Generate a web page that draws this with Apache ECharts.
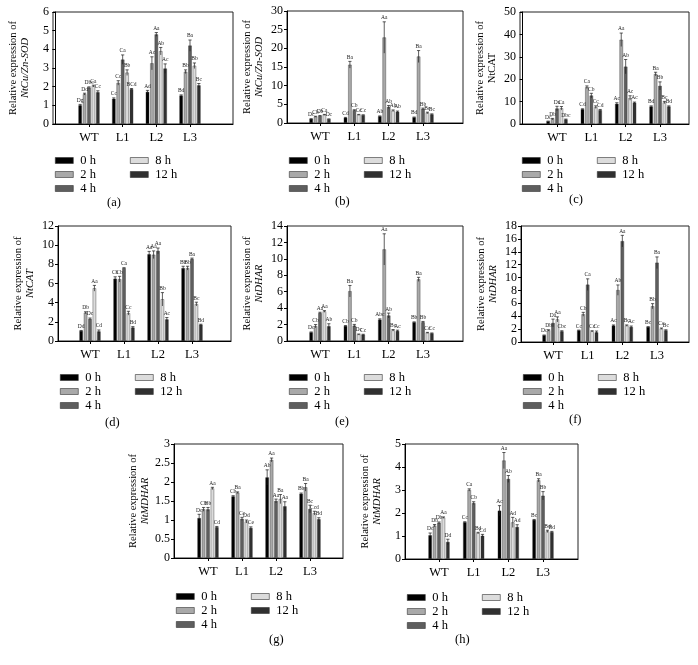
<!DOCTYPE html>
<html>
<head>
<meta charset="utf-8">
<script src="https://cdn.jsdelivr.net/npm/echarts@6/dist/echarts.min.js"></script>
<style>
html,body{margin:0;padding:0;background:#fff;}
#chart{width:698px;height:665px;}
</style>
</head>
<body>
<div id="chart"></div>
<script>
// ---------- data ----------
const groups = ['WT', 'L1', 'L2', 'L3'];
const times = ['0 h', '2 h', '4 h', '8 h', '12 h'];

// rows = time (0,2,4,8,12 h), columns = WT, L1, L2, L3
// (a) NtCu/Zn-SOD
const aMean = [[1.0,1.35,1.72,1.52],[1.6,2.2,3.25,2.8],[1.95,3.45,4.8,4.2],[2.03,2.75,3.9,3.12],[1.7,1.87,2.97,2.07]];
const aErr  = [[0.05,0.05,0.08,0.04],[0.05,0.12,0.35,0.1],[0.04,0.25,0.1,0.3],[0.05,0.15,0.2,0.15],[0.08,0.03,0.25,0.1]];
const aSig  = [['Dg','Cc','Ad','Bd'],['Dd','Cc','Ac','Bb'],['Dbc','Ca','Aa','Ba'],['Ca','Bb','Ab','Bb'],['Cc','BCd','Ac','Bc']];
// (b) NtCu/Zn-SOD
const bMean = [[1.1,1.4,1.8,1.5],[1.7,15.6,22.9,17.8],[1.9,3.4,4.3,3.8],[2.2,2.2,3.3,2.7],[1.05,2.1,3.0,2.3]];
const bErr  = [[0.05,0.1,0.1,0.1],[0.1,0.9,4.2,1.6],[0.1,0.15,0.4,0.2],[0.1,0.1,0.2,0.2],[0.05,0.1,0.2,0.15]];
const bSig  = [['Dc','Cd','Ab','Bd'],['Cb','Ba','Aa','Ba'],['Db','Cb','Ab','Bb'],['Ca','Cc','Ab','Bc'],['Dc','Cc','Ab','Bc']];
// (c) NtCAT
const cMean = [[1.2,6.6,9.0,7.8],[2.2,16.4,37.6,22.3],[6.9,12.7,25.6,17.0],[7.0,7.5,11.6,9.6],[2.0,6.2,9.5,7.8]];
const cErr  = [[0.1,0.2,0.5,0.3],[0.3,0.6,3.0,0.8],[1.0,1.0,3.2,1.8],[0.8,0.6,1.0,0.5],[0.2,0.3,0.3,0.3]];
const cSig  = [['Dc','Cd','Ac','Bd'],['Db','Ca','Aa','Ba'],['Da','Cb','Ab','Bb'],['Ca','Cc','Ac','Bc'],['Dbc','Cd','Ac','Bd']];
// (d) NtCAT
const dMean = [[1.05,6.5,9.05,7.6],[2.95,6.45,9.0,7.6],[2.3,7.6,9.4,8.55],[5.5,2.9,4.35,3.85],[1.0,1.4,2.25,1.7]];
const dErr  = [[0.05,0.2,0.3,0.2],[0.1,0.3,0.4,0.2],[0.1,0.05,0.3,0.1],[0.3,0.2,0.7,0.2],[0.15,0.1,0.2,0.05]];
const dSig  = [['Dd','Cb','Aa','Bb'],['Db','Cb','Aa','Bb'],['Dc','Ca','Aa','Ba'],['Aa','Cc','Bb','Bc'],['Cd','Bd','Ac','Bd']];
// (e) NtDHAR
const eMean = [[1.05,1.83,2.6,2.28],[1.8,6.06,11.15,7.5],[3.4,1.87,3.1,2.28],[3.6,0.8,1.3,1.0],[1.8,0.77,1.22,0.93]];
const eErr  = [[0.05,0.05,0.1,0.05],[0.2,0.7,1.9,0.25],[0.1,0.15,0.3,0.1],[0.1,0.05,0.1,0.05],[0.3,0.05,0.1,0.05]];
const eSig  = [['Dc','Cb','Abc','Bb'],['Cb','Ba','Aa','Ba'],['Aa','Cb','Ab','Bb'],['Aa','Dc','Bc','Cc'],['Ab','Cc','Ac','Cc']];
// (f) NtDHAR
const fMean = [[1.04,1.8,2.55,2.33],[1.8,4.3,8.05,5.55],[2.95,8.9,15.65,12.3],[3.5,1.65,2.55,2.07],[1.65,1.5,2.33,1.8]];
const fErr  = [[0.05,0.05,0.1,0.05],[0.1,0.3,0.8,0.4],[0.6,0.9,0.9,0.9],[0.4,0.1,0.1,0.1],[0.1,0.2,0.15,0.1]];
const fSig  = [['Dc','Cc','Ac','Bc'],['Db','Cb','Ab','Bb'],['Da','Ca','Aa','Ba'],['Aa','Cc','Bc','Cc'],['Cbc','Cc','Ac','Bc']];
// (g) NtMDHAR
const gMean = [[1.05,1.62,2.12,1.69],[1.28,1.72,2.58,1.86],[1.28,1.03,1.5,1.29],[1.83,0.96,1.55,1.18],[0.81,0.79,1.36,1.02]];
const gErr  = [[0.1,0.02,0.2,0.02],[0.05,0.02,0.05,0.1],[0.05,0.04,0.05,0.1],[0.03,0.04,0.12,0.05],[0.02,0.03,0.12,0.04]];
const gSig  = [['Dc','Cb','Ab','Bb'],['Cb','Ba','Aa','Ba'],['Bb','Cc','Aa','Bc'],['Aa','Dd','Ba','Ccd'],['Cd','Ce','Aa','Bd']];
// (h) NtMDHAR
const hMean = [[1.03,1.6,2.1,1.7],[1.45,3.0,4.28,3.42],[1.57,2.43,3.48,2.75],[1.8,1.13,1.59,1.2],[0.74,1.01,1.39,1.17]];
const hErr  = [[0.1,0.02,0.22,0.02],[0.05,0.05,0.35,0.07],[0.04,0.06,0.15,0.18],[0.03,0.03,0.22,0.05],[0.12,0.06,0.1,0.03]];
const hSig  = [['Dc','Cc','Ac','Bc'],['Db','Ca','Aa','Ba'],['Db','Cb','Ab','Bb'],['Aa','Bd','Ad','Bd'],['Dd','Cd','Ad','Bd']];

// ---------- styling / layout ----------
const FONT = "'Liberation Serif', 'DejaVu Serif', serif";
const COLORS = ['#000000', '#a9a9a9', '#5e5e5e', '#dcdcdc', '#303030'];
const BAR_W = 3.4;
const BAR_GAP = 0.3;
const BAR_STEP = BAR_W * (1 + BAR_GAP);

const panels = [
  {tag:'(a)', gene:'NtCu/Zn-SOD', italic:true, mean:aMean, err:aErr, sig:aSig, yMax:6, yStep:1,
   left:53, right:233, top:12, bottom:124, wt:89, l3:190, legY:154, tagX:115, tagY:196},
  {tag:'(b)', gene:'NtCu/Zn-SOD', italic:true, mean:bMean, err:bErr, sig:bSig, yMax:30, yStep:5,
   left:287, right:463, top:11, bottom:123, wt:320, l3:423, legY:154, tagX:343, tagY:195},
  {tag:'(c)', gene:'NtCAT', italic:false, mean:cMean, err:cErr, sig:cSig, yMax:50, yStep:10,
   left:520, right:689, top:12, bottom:124, wt:557, l3:660, legY:154, tagX:577, tagY:193},
  {tag:'(d)', gene:'NtCAT', italic:true, mean:dMean, err:dErr, sig:dSig, yMax:12, yStep:2,
   left:58, right:231, top:226, bottom:341, wt:90, l3:192, legY:371, tagX:113, tagY:416},
  {tag:'(e)', gene:'NtDHAR', italic:true, mean:eMean, err:eErr, sig:eSig, yMax:14, yStep:2,
   left:287, right:463, top:226, bottom:341, wt:320, l3:423, legY:371, tagX:343, tagY:415},
  {tag:'(f)', gene:'NtDHAR', italic:true, mean:fMean, err:fErr, sig:fSig, yMax:18, yStep:2,
   left:521, right:689, top:226, bottom:342, wt:553, l3:657, legY:371, tagX:577, tagY:413},
  {tag:'(g)', gene:'NtMDHAR', italic:true, mean:gMean, err:gErr, sig:gSig, yMax:3, yStep:0.5,
   left:174, right:343, top:444, bottom:558, wt:208, l3:310, legY:590, tagX:277, tagY:633},
  {tag:'(h)', gene:'NtMDHAR', italic:true, mean:hMean, err:hErr, sig:hSig, yMax:5, yStep:1,
   left:405, right:578, top:444, bottom:559, wt:439, l3:543, legY:591, tagX:463, tagY:633}
];

const grid = [], xAxis = [], yAxis = [], series = [], legend = [], title = [];

function errRender(t, sigArr) {
  return function (params, api) {
    const x = api.value(0), m = api.value(1), e = api.value(2), j = api.value(3);
    const pt = api.coord([x, m + e]);
    const pb = api.coord([x, m - e]);
    const cx = pt[0] + (t - 2) * BAR_STEP;
    const ls = {stroke:'#1a1a1a', lineWidth:0.7};
    const children = [
      {type:'line', shape:{x1:cx, y1:pt[1], x2:cx, y2:pb[1]}, style:ls},
      {type:'line', shape:{x1:cx - 1.6, y1:pt[1], x2:cx + 1.6, y2:pt[1]}, style:ls},
      {type:'text', style:{text:sigArr[t][j], x:cx, y:pt[1] - 1, align:'center', verticalAlign:'bottom',
        fontSize:5.5, fontFamily:FONT, fill:'#222'}}
    ];
    return {type:'group', children};
  };
}

panels.forEach((p, i) => {
  const k = (p.l3 - p.wt) / 3;
  const xMin = 1 - (p.wt - p.left) / k;
  const xMax = xMin + (p.right - p.left) / k;
  grid.push({left:p.left, top:p.top, width:p.right - p.left, height:p.bottom - p.top,
    show:true, borderColor:'#222', borderWidth:1, backgroundColor:'transparent', containLabel:false});
  xAxis.push({gridIndex:i, type:'value', min:xMin, max:xMax,
    axisLine:{show:true, onZero:false, lineStyle:{color:'#000', width:1}},
    axisTick:{show:true, customValues:[1,2,3,4], length:3, lineStyle:{color:'#000'}},
    axisLabel:{customValues:[1,2,3,4], formatter:v => groups[Math.round(v) - 1] || '',
      fontFamily:FONT, fontSize:12.5, color:'#000', margin:7},
    splitLine:{show:false}});
  const nm = p.italic ? 'Relative expression of\n{i|' + p.gene + '}' : 'Relative expression of\n' + p.gene;
  yAxis.push({gridIndex:i, type:'value', min:0, max:p.yMax, interval:p.yStep,
    axisLine:{show:true, lineStyle:{color:'#000', width:1}},
    axisTick:{show:true, length:3, lineStyle:{color:'#000'}},
    axisLabel:{fontFamily:FONT, fontSize:12, color:'#000', margin:4},
    splitLine:{show:false},
    name:nm, nameLocation:'middle', nameGap:22,
    nameTextStyle:{fontFamily:FONT, fontSize:10.5, color:'#000', lineHeight:12,
      rich:{i:{fontFamily:FONT, fontSize:10.5, fontStyle:'italic', color:'#000', lineHeight:12}}}});
  times.forEach((tn, t) => {
    series.push({type:'bar', name:tn, xAxisIndex:i, yAxisIndex:i,
      data:groups.map((g, j) => [j + 1, p.mean[t][j]]),
      barWidth:BAR_W, barGap:(BAR_GAP * 100) + '%',
      itemStyle:{color:COLORS[t], borderColor:'#333', borderWidth:0.4},
      z:2, silent:true, animation:false});
  });
  times.forEach((tn, t) => {
    series.push({type:'custom', name:'err' + i + '_' + t, xAxisIndex:i, yAxisIndex:i,
      data:groups.map((g, j) => [j + 1, p.mean[t][j], p.err[t][j], j]),
      renderItem:errRender(t, p.sig), z:3, silent:true, animation:false});
  });
  const legCommon = {orient:'vertical', top:p.legY, itemWidth:18, itemHeight:6, itemGap:1, icon:'rect',
    selectedMode:false, padding:0,
    itemStyle:{borderColor:'#333', borderWidth:0.6},
    textStyle:{fontFamily:FONT, fontSize:12.5, color:'#000', padding:[0,0,0,2]}};
  legend.push(Object.assign({data:['0 h','2 h','4 h'], left:p.left + 2}, legCommon));
  legend.push(Object.assign({data:['8 h','12 h'], left:p.left + 77}, legCommon));
  title.push({text:p.tag, left:p.tagX - 8, top:p.tagY, padding:0,
    textStyle:{fontFamily:FONT, fontSize:12.5, fontWeight:'normal', color:'#000'}});
});

const chart = echarts.init(document.getElementById('chart'));
chart.setOption({backgroundColor:'#fff', animation:false, grid, xAxis, yAxis, series, legend, title});
</script>
</body>
</html>
